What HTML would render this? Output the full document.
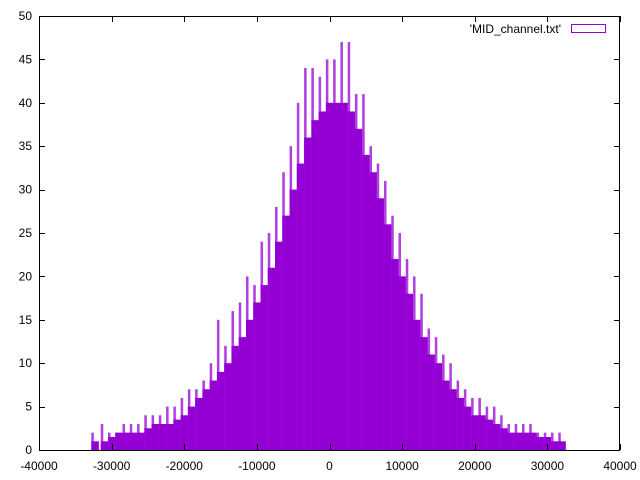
<!DOCTYPE html>
<html><head><meta charset="utf-8">
<style>
html,body{margin:0;padding:0;background:#fff;}
svg{display:block;font-family:"Liberation Sans","DejaVu Sans",sans-serif;font-size:12px;}
</style></head>
<body>
<svg id="chart" width="640" height="480" viewBox="0 0 640 480" xmlns="http://www.w3.org/2000/svg">
<rect x="0" y="0" width="640" height="480" fill="#fff"/>
<g id="bars"></g>
<g id="axes"></g>
<g>
<text x="561" y="33" text-anchor="end" fill="#000">'MID_channel.txt'</text>
<rect x="571.5" y="24.5" width="34" height="8" fill="none" stroke="#9400d3" stroke-width="1"/>
</g>
</svg>
<script>
const binStarts = [-32800,-31500,-30500,-29500,-28500,-27500,-26500,-25500,-24500,-23500,-22500,-21500,-20500,-19500,-18500,-17500,-16500,-15500,-14500,-13500,-12500,-11500,-10500,-9500,-8500,-7500,-6500,-5500,-4500,-3500,-2500,-1500,-500,500,1500,2500,3500,4500,5500,6500,7500,8500,9500,10500,11500,12500,13500,14500,15500,16500,17500,18500,19500,20500,21500,22500,23500,24500,25500,26500,27500,28500,29500,30500,31500];
const baseCounts = [1,1,1.5,2,2,2,2,2.5,3,3,3,3.5,4,5,6,7,8,9,10,12,13,15,17,19,21,24,27,30,33,36,38,39,40,40,40,39,37,34,32,29,26,22,20,18,15,13,11,10,8,7,6,5,4,4,3.5,3,2.5,2,2,2,2,1.5,1.5,1,1];
const peakCounts = [2,3,2,2,3,3,3,4,4,4,5,5,6,7,7,8,10,15,12,16,17,20,19,24,25,28,32,35,40,44,44,43,45,45,47,47,41,41,35,33,31,27,25,22,20,18,14,13,11,10,8,7,6,6,5,5,4,3,3,3,3,2,2,2,2];
const binWidth = 1000;
const xTicks = [-40000,-30000,-20000,-10000,0,10000,20000,30000,40000];
const yTicks = [0,5,10,15,20,25,30,35,40,45,50];

const L=39,R=620,T=16,B=450;
const xMin=-40000,xMax=40000,yMin=0,yMax=50;
const sx=v=>L+(v-xMin)/(xMax-xMin)*(R-L);
const sy=v=>B-(v-yMin)/(yMax-yMin)*(B-T);
const NS='http://www.w3.org/2000/svg';
const bars=document.getElementById('bars');
const axes=document.getElementById('axes');
function mk(tag,attrs,parent){const e=document.createElementNS(NS,tag);for(const k in attrs)e.setAttribute(k,attrs[k]);parent.appendChild(e);return e;}

binStarts.forEach((s,i)=>{
  const x0=sx(s), x1=sx(s+binWidth);
  const p=mk('rect',{x:x0,y:sy(peakCounts[i]),width:Math.max(1,(x1-x0)*0.35),height:B-sy(peakCounts[i]),fill:'#b040e0'},bars);
  
  
  const r=mk('rect',{x:x0,y:sy(baseCounts[i]),width:x1-x0+0.3,height:B-sy(baseCounts[i]),fill:'#9400d3'},bars);
  
  
});

const frame=mk('rect',{x:L+0.5,y:T+0.5,width:R-L-1,height:B-T,fill:'none',stroke:'#000','stroke-width':1},axes);


xTicks.forEach(v=>{
  const x=Math.round(sx(v))+0.5;
  mk('line',{x1:x,y1:B,x2:x,y2:B-6,stroke:'#000'},axes);
  mk('line',{x1:x,y1:T,x2:x,y2:T+6,stroke:'#000'},axes);
  const t=mk('text',{x:sx(v),y:B+20,'text-anchor':'middle',fill:'#000'},axes);
  t.textContent=v;
  
  
});
yTicks.forEach(v=>{
  const y=Math.round(sy(v))+0.5;
  mk('line',{x1:L,y1:y,x2:L+6,y2:y,stroke:'#000'},axes);
  mk('line',{x1:R,y1:y,x2:R-6,y2:y,stroke:'#000'},axes);
  const t=mk('text',{x:32,y:sy(v)+4,'text-anchor':'end',fill:'#000'},axes);
  t.textContent=v;
  
  
});
</script>
</body></html>
